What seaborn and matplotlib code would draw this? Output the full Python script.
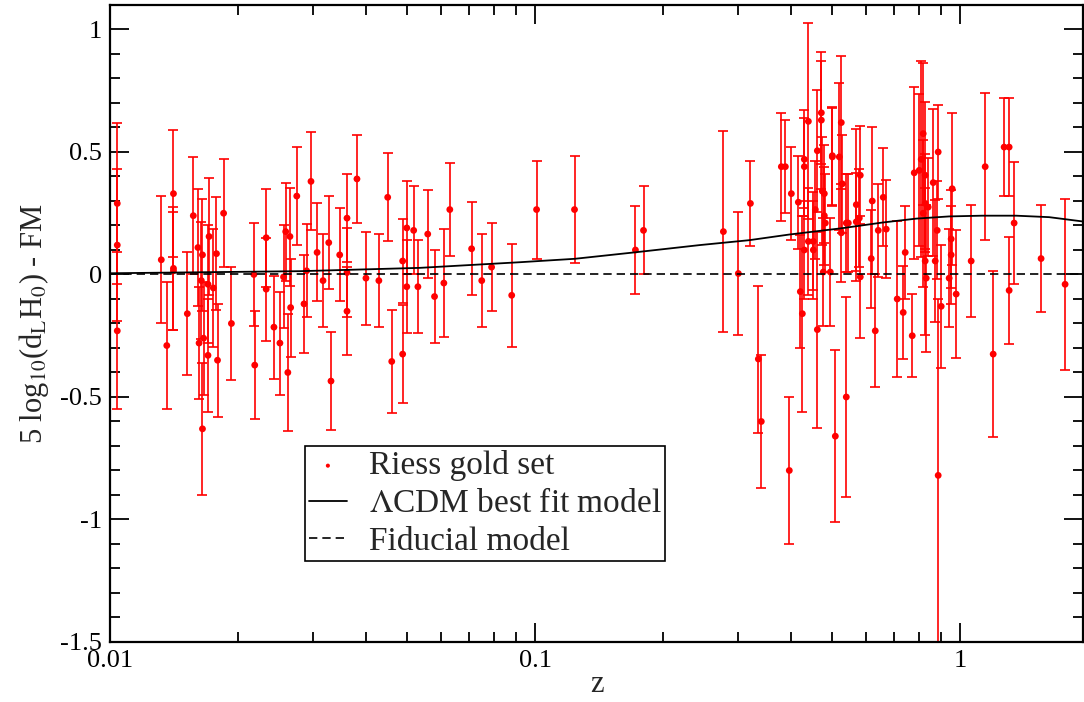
import numpy as np
import matplotlib
matplotlib.use("Agg")
import matplotlib.pyplot as plt
import seaborn as sns
from matplotlib.ticker import FixedLocator, FixedFormatter, MultipleLocator

# Supernova distance moduli relative to the fiducial model (Riess gold set)
sn_z = [
    0.0104, 0.0104, 0.0104, 0.0132, 0.0136, 0.0141, 0.0141, 0.0141, 0.0152, 0.0157,
    0.0161, 0.0162, 0.0164, 0.0165, 0.0165, 0.0166, 0.0170, 0.0171, 0.0170, 0.0175,
    0.0178, 0.0179, 0.0185, 0.0193, 0.0218, 0.0219, 0.0233, 0.0233, 0.0243, 0.0251,
    0.0256, 0.0259, 0.0262, 0.0265, 0.0266, 0.0275, 0.0286, 0.0290, 0.0297, 0.0307,
    0.0317, 0.0327, 0.0331, 0.0347, 0.0361, 0.0361, 0.0361, 0.0381, 0.0400, 0.0429,
    0.0450, 0.0460, 0.0488, 0.0488, 0.0499, 0.0499, 0.0518, 0.0530, 0.0559, 0.0580,
    0.0610, 0.0630, 0.0709, 0.0749, 0.0790, 0.0881, 0.1008, 0.1238, 0.1722, 0.1799,
    0.2773, 0.3007, 0.3210, 0.3351, 0.3405, 0.3796, 0.3879, 0.3963, 0.4007, 0.4162,
    0.4207, 0.4253, 0.4299, 0.4299, 0.4299, 0.4394, 0.4394, 0.4514, 0.4514, 0.4563,
    0.4613, 0.4613, 0.4714, 0.4714, 0.4740, 0.4791, 0.4791, 0.4817, 0.4764, 0.4949,
    0.5085, 0.5003, 0.5003, 0.5196, 0.5252, 0.5281, 0.5252, 0.5396, 0.5455, 0.5396,
    0.5697, 0.5697, 0.5790, 0.5821, 0.5821, 0.6177, 0.6211, 0.6313, 0.6417, 0.6592,
    0.6700, 0.7110, 0.7345, 0.7425, 0.7713, 0.7797, 0.8011, 0.8098, 0.8185, 0.8185,
    0.8274, 0.8274, 0.8409, 0.8274, 0.8320, 0.8642, 0.8735, 0.8877, 0.8829, 0.8877,
    0.9023, 0.9421, 0.9524, 0.9524, 0.9576, 0.9786, 1.0614, 1.1451, 1.1958, 1.2689,
    1.3038, 1.3395, 1.3038, 1.5500, 1.7654,
]
sn_dmu = [
    0.29, 0.12, -0.23, 0.06, -0.29, 0.33, 0.025, 0.015, -0.16, 0.24,
    0.11, -0.28, -0.025, -0.63, 0.08, -0.26, -0.04, 0.155, -0.33, -0.055,
    0.085, -0.35, 0.25, -0.20, 0.0, -0.37, 0.15, -0.06, -0.215, -0.28,
    -0.01, 0.175, -0.40, 0.155, -0.135, 0.32, -0.12, 0.015, 0.38, 0.09,
    -0.025, 0.13, -0.435, 0.08, 0.23, 0.008, -0.15, 0.39, -0.015, -0.025,
    0.315, -0.355, 0.055, -0.325, 0.19, -0.05, 0.18, -0.05, 0.165, -0.09,
    -0.035, 0.265, 0.105, -0.025, 0.03, -0.085, 0.265, 0.265, 0.10, 0.18,
    0.175, 0.004, 0.29, -0.345, -0.60, 0.44, 0.44, -0.80, 0.33, 0.295,
    -0.07, -0.16, 0.47, 0.44, 0.10, 0.625, 0.135, 0.135, 0.10, 0.265,
    0.505, -0.225, 0.66, 0.63, 0.34, 0.33, 0.24, 0.21, 0.01, 0.01,
    -0.66, 0.485, 0.48, 0.48, 0.62, 0.37, 0.17, 0.21, 0.21, -0.50,
    0.285, 0.215, 0.23, 0.405, -0.01, 0.065, 0.30, -0.23, 0.18, 0.315,
    0.185, -0.10, -0.155, 0.09, -0.25, 0.415, 0.425, 0.47, 0.575, 0.25,
    0.405, 0.29, 0.275, 0.055, -0.015, 0.375, 0.055, 0.50, 0.18, -0.82,
    -0.13, -0.015, 0.145, 0.08, 0.35, -0.08, 0.055, 0.44, -0.325, 0.52,
    0.52, 0.21, -0.065, 0.065, -0.04,
]
sn_err = [
    0.33, 0.31, 0.32, 0.26, 0.26, 0.26, 0.25, 0.24, 0.25, 0.24,
    0.24, 0.23, 0.24, 0.27, 0.23, 0.23, 0.24, 0.24, 0.23, 0.24,
    0.23, 0.23, 0.22, 0.23, 0.21, 0.22, 0.20, 0.21, 0.21, 0.21,
    0.21, 0.20, 0.24, 0.20, 0.20, 0.20, 0.20, 0.19, 0.20, 0.20,
    0.19, 0.19, 0.20, 0.19, 0.18, 0.18, 0.18, 0.18, 0.19, 0.19,
    0.18, 0.21, 0.17, 0.20, 0.19, 0.19, 0.18, 0.19, 0.18, 0.19,
    0.22, 0.19, 0.19, 0.19, 0.18, 0.21, 0.20, 0.22, 0.18, 0.18,
    0.41, 0.25, 0.175, 0.30, 0.27, 0.22, 0.19, 0.30, 0.19, 0.19,
    0.23, 0.40, 0.20, 0.20, 0.20, 0.40, 0.22, 0.20, 0.20, 0.20,
    0.25, 0.40, 0.21, 0.28, 0.22, 0.20, 0.20, 0.20, 0.22, 0.22,
    0.35, 0.20, 0.20, 0.30, 0.27, 0.20, 0.20, 0.20, 0.20, 0.41,
    0.31, 0.20, 0.20, 0.20, 0.25, 0.20, 0.30, 0.23, 0.19, 0.20,
    0.20, 0.32, 0.19, 0.19, 0.17, 0.35, 0.31, 0.40, 0.29, 0.30,
    0.30, 0.20, 0.20, 0.30, 0.30, 0.30, 0.25, 0.19, 0.20, 0.72,
    0.25, 0.20, 0.20, 0.20, 0.31, 0.26, 0.23, 0.30, 0.34, 0.20,
    0.20, 0.25, 0.22, 0.22, 0.35,
]

# Best-fit LambdaCDM relative to the fiducial model
lcdm_z = [0.01, 0.028, 0.0535, 0.092, 0.124, 0.173, 0.244, 0.319, 0.396,
          0.528, 0.656, 0.788, 0.942, 1.126, 1.354, 1.619, 1.95]
lcdm_dmu = [0.005, 0.0135, 0.027, 0.050, 0.064, 0.091, 0.120, 0.140, 0.163,
            0.189, 0.212, 0.228, 0.237, 0.240, 0.240, 0.234, 0.216]

# Fiducial model (zero by construction)
fid_z = [0.01, 1.95]
fid_dmu = [0.0, 0.0]

sns.set_style("ticks")
plt.rcParams["font.family"] = ["Liberation Serif", "DejaVu Serif"]
plt.rcParams["mathtext.fontset"] = "stix"

fig, ax = plt.subplots(figsize=(10.84, 7.02), dpi=100)
fig.subplots_adjust(left=0.1015, right=0.9995, bottom=0.0855, top=0.9929)

ax.set_xscale("log")

ax.errorbar(sn_z, sn_dmu, yerr=sn_err, fmt="none", ecolor="#ff0000",
            elinewidth=1.2, capsize=3.5, capthick=1.2, zorder=2)
sns.scatterplot(x=sn_z, y=sn_dmu, color="#ff0000", s=24, edgecolor="none",
                linewidth=0, label="Riess gold set", ax=ax, zorder=3)
sns.lineplot(x=lcdm_z, y=lcdm_dmu, color="black", linewidth=1.3,
             label=r"$\Lambda$CDM best fit model", ax=ax, zorder=4)
sns.lineplot(x=fid_z, y=fid_dmu, color="black", linewidth=1.2, linestyle=(0, (5, 3)),
             label="Fiducial model", ax=ax, zorder=4)

ax.set_xlim(0.01, 1.95)
ax.set_ylim(-1.5, 1.1)

ax.xaxis.set_major_locator(FixedLocator([0.01, 0.1, 1]))
ax.xaxis.set_major_formatter(FixedFormatter(["0.01", "0.1", "1"]))
minors = [m * d for d in (0.01, 0.1, 1) for m in range(2, 10)]
ax.xaxis.set_minor_locator(FixedLocator(minors))
ax.xaxis.set_minor_formatter(FixedFormatter([""] * len(minors)))

yt = [-1.5, -1, -0.5, 0, 0.5, 1]
ax.yaxis.set_major_locator(FixedLocator(yt))
ax.yaxis.set_major_formatter(FixedFormatter(["-1.5", "-1", "-0.5", "0", "0.5", "1"]))
ax.yaxis.set_minor_locator(MultipleLocator(0.1))

ax.tick_params(which="both", direction="in", top=True, right=True, width=1.3, colors="black")
ax.tick_params(which="major", length=14, labelsize=19, pad=6)
ax.tick_params(which="minor", length=7)

for s in ax.spines.values():
    s.set_linewidth(1.6)
    s.set_color("black")

ax.set_xlabel("z", fontsize=22, labelpad=-2)
ax.set_ylabel(r"5 log$_{10}$(d$_\mathrm{L}$H$_0$) - FM", fontsize=22, labelpad=6)

leg = ax.legend(loc="lower left", bbox_to_anchor=(0.2, 0.127), borderaxespad=0,
                fontsize=24, frameon=True, fancybox=False, edgecolor="black",
                framealpha=1, handlelength=1.15, handletextpad=0.65, borderpad=0.12,
                labelspacing=0.22, markerscale=0.6)
leg.get_frame().set_linewidth(1.2)

fig.savefig("out.png", dpi=100)
